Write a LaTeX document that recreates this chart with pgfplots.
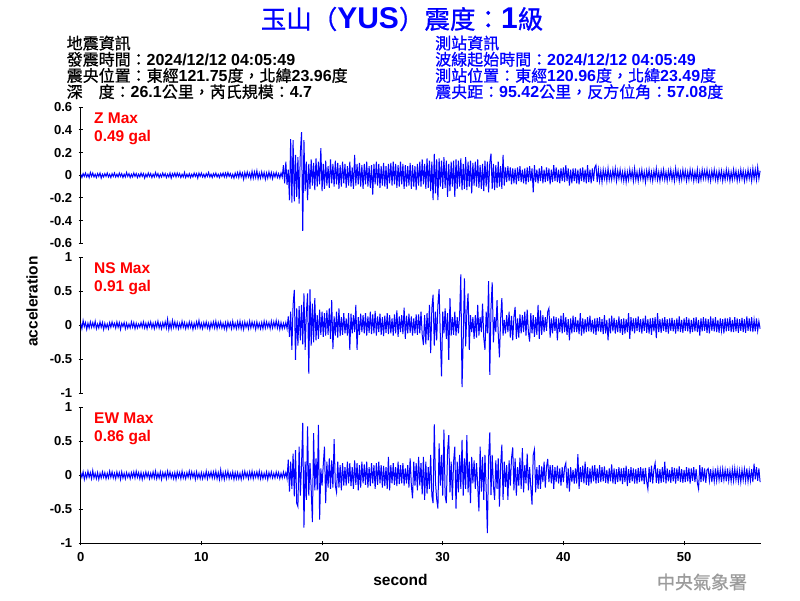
\documentclass[border=0pt]{standalone}
\usepackage{pgfplots}
\usepackage{pgfplotstable}
\pgfplotsset{compat=1.18}
\usepackage{fontspec}
\setmainfont{Liberation Sans}
\newfontfamily\cjk[FakeBold=0.8]{Noto Sans CJK TC}
\definecolor{wblue}{RGB}{0,0,255}
\definecolor{wred}{RGB}{255,0,0}
\definecolor{wgray}{RGB}{155,155,155}
\newcommand\C[1]{{\cjk #1}}
\newcommand\B[1]{{\bfseries #1}}

\pgfplotstableread[row sep=\\,header=false]{
0.01\\ -0.02\\ 0.015\\ -0.01\\ 0.02\\ -0.015\\ 0.01\\ -0.02\\ 0.025\\ -0.01\\
0.02\\ -0.015\\ 0.01\\ -0.02\\ 0.015\\ -0.01\\ 0.02\\ -0.025\\ 0.01\\ -0.015\\
0.015\\ -0.01\\ 0.02\\ -0.015\\ 0.01\\ -0.02\\ 0.015\\ -0.01\\ 0.02\\ -0.015\\
0.01\\ -0.015\\ 0.02\\ -0.01\\ 0.015\\ -0.02\\ 0.01\\ -0.015\\ 0.025\\ -0.01\\
0.015\\ -0.02\\ 0.01\\ -0.015\\ 0.02\\ -0.01\\ 0.015\\ -0.02\\ 0.01\\ -0.015\\
0.02\\ -0.01\\ 0.015\\ -0.025\\ 0.01\\ -0.015\\ 0.02\\ -0.01\\ 0.015\\ -0.02\\
0.01\\ -0.015\\ 0.025\\ -0.01\\ 0.015\\ -0.02\\ 0.01\\ -0.015\\ 0.02\\ -0.01\\
0.015\\ -0.02\\ 0.01\\ -0.015\\ 0.02\\ -0.025\\ 0.015\\ -0.01\\ 0.02\\ -0.015\\
0.02\\ -0.01\\ 0.015\\ -0.02\\ 0.01\\ -0.015\\ 0.025\\ -0.02\\ 0.01\\ -0.015\\
0.015\\ -0.02\\ 0.01\\ -0.015\\ 0.02\\ -0.01\\ 0.015\\ -0.025\\ 0.02\\ -0.01\\
0.02\\ -0.015\\ 0.01\\ -0.02\\ 0.015\\ -0.01\\ 0.025\\ -0.015\\ 0.01\\ -0.02\\
0.015\\ -0.01\\ 0.02\\ -0.015\\ 0.01\\ -0.02\\ 0.015\\ -0.01\\ 0.02\\ -0.015\\
0.02\\ -0.015\\ 0.025\\ -0.01\\ 0.015\\ -0.02\\ 0.01\\ -0.025\\ 0.02\\ -0.015\\
0.025\\ -0.02\\ 0.03\\ -0.015\\ 0.02\\ -0.035\\ 0.025\\ -0.02\\ 0.03\\ -0.015\\
0.02\\ -0.03\\ 0.035\\ -0.025\\ 0.03\\ -0.02\\ 0.04\\ -0.03\\ 0.02\\ -0.025\\
0.03\\ -0.02\\ 0.025\\ -0.035\\ 0.02\\ -0.025\\ 0.03\\ -0.02\\ 0.025\\ -0.03\\
0.02\\ -0.015\\ 0.025\\ -0.02\\ 0.015\\ -0.025\\ 0.02\\ -0.015\\ 0.09\\ -0.07\\
0.12\\ -0.085\\ 0.05\\ -0.22\\ 0.32\\ -0.24\\ 0.31\\ -0.23\\ 0.18\\ -0.19\\
0.16\\ -0.25\\ 0.2\\ 0.38\\ -0.49\\ 0.31\\ -0.14\\ 0.12\\ -0.22\\ 0.1\\
-0.12\\ 0.14\\ -0.09\\ 0.11\\ -0.13\\ 0.15\\ -0.1\\ 0.12\\ -0.08\\ 0.24\\
-0.14\\ 0.1\\ -0.12\\ 0.13\\ -0.09\\ 0.08\\ -0.11\\ 0.14\\ -0.07\\ 0.1\\
-0.1\\ 0.13\\ -0.08\\ 0.11\\ -0.12\\ 0.09\\ -0.1\\ 0.12\\ -0.07\\ 0.1\\
-0.11\\ 0.08\\ -0.09\\ 0.12\\ -0.1\\ 0.07\\ -0.12\\ 0.18\\ -0.09\\ 0.1\\
-0.08\\ 0.11\\ -0.1\\ 0.09\\ -0.12\\ 0.1\\ -0.08\\ 0.12\\ -0.1\\ 0.08\\
-0.11\\ 0.09\\ -0.17\\ 0.1\\ -0.08\\ 0.12\\ -0.09\\ 0.1\\ -0.11\\ 0.08\\
-0.09\\ 0.11\\ -0.1\\ 0.08\\ -0.12\\ 0.1\\ -0.07\\ 0.11\\ -0.09\\ 0.12\\
-0.08\\ 0.1\\ -0.11\\ 0.09\\ -0.1\\ 0.12\\ -0.08\\ 0.1\\ -0.12\\ 0.09\\
-0.1\\ 0.08\\ -0.09\\ 0.11\\ -0.12\\ 0.09\\ -0.1\\ 0.08\\ -0.13\\ 0.1\\
-0.09\\ 0.12\\ -0.1\\ 0.14\\ -0.08\\ 0.1\\ -0.12\\ 0.15\\ -0.11\\ 0.13\\
-0.14\\ 0.12\\ -0.22\\ 0.19\\ -0.16\\ 0.14\\ -0.22\\ 0.15\\ -0.1\\ 0.13\\
-0.12\\ 0.16\\ -0.11\\ 0.13\\ -0.19\\ 0.1\\ -0.14\\ 0.12\\ -0.1\\ 0.13\\
-0.19\\ 0.14\\ -0.12\\ 0.13\\ -0.1\\ 0.15\\ -0.13\\ 0.1\\ -0.12\\ 0.16\\
-0.13\\ 0.12\\ -0.1\\ 0.13\\ -0.16\\ 0.11\\ -0.09\\ 0.12\\ -0.1\\ 0.14\\
-0.11\\ 0.09\\ -0.12\\ 0.1\\ -0.14\\ 0.13\\ -0.1\\ 0.12\\ -0.15\\ 0.11\\
0.19\\ -0.12\\ 0.1\\ -0.13\\ 0.09\\ -0.11\\ 0.12\\ -0.1\\ 0.08\\ -0.12\\
0.18\\ -0.09\\ 0.07\\ -0.06\\ 0.08\\ -0.05\\ 0.07\\ -0.08\\ 0.06\\ -0.07\\
0.06\\ -0.08\\ 0.07\\ -0.05\\ 0.08\\ -0.06\\ 0.05\\ -0.07\\ 0.06\\ -0.08\\
0.07\\ -0.06\\ 0.08\\ -0.05\\ 0.06\\ -0.15\\ 0.09\\ -0.06\\ 0.05\\ -0.07\\
0.06\\ -0.05\\ 0.08\\ -0.07\\ 0.05\\ -0.06\\ 0.07\\ -0.05\\ 0.06\\ -0.08\\
0.05\\ -0.06\\ 0.09\\ -0.05\\ 0.07\\ -0.06\\ 0.05\\ -0.07\\ 0.06\\ -0.05\\
0.07\\ -0.06\\ 0.09\\ -0.05\\ 0.06\\ -0.09\\ 0.05\\ -0.07\\ 0.06\\ -0.05\\
0.06\\ -0.07\\ 0.05\\ -0.08\\ 0.06\\ -0.05\\ 0.07\\ -0.06\\ 0.05\\ -0.07\\
0.09\\ -0.06\\ 0.05\\ -0.07\\ 0.06\\ -0.05\\ 0.07\\ 0.09\\ -0.06\\ 0.05\\
-0.05\\ 0.04\\ -0.06\\ 0.05\\ -0.03\\ 0.04\\ -0.05\\ 0.06\\ -0.04\\ 0.03\\
-0.04\\ 0.05\\ -0.03\\ 0.06\\ -0.05\\ 0.04\\ -0.03\\ 0.05\\ -0.04\\ 0.03\\
-0.05\\ 0.04\\ -0.06\\ 0.03\\ -0.04\\ 0.05\\ -0.03\\ 0.04\\ -0.05\\ 0.06\\
-0.04\\ 0.03\\ -0.05\\ 0.04\\ -0.03\\ 0.05\\ -0.04\\ 0.03\\ -0.06\\ 0.04\\
-0.03\\ 0.05\\ -0.04\\ 0.03\\ -0.05\\ 0.04\\ -0.03\\ 0.06\\ -0.04\\ 0.03\\
-0.05\\ 0.04\\ -0.03\\ 0.05\\ -0.04\\ 0.03\\ -0.05\\ 0.04\\ -0.03\\ 0.05\\
-0.04\\ 0.03\\ -0.05\\ 0.06\\ -0.03\\ 0.04\\ -0.05\\ 0.03\\ -0.04\\ 0.05\\
-0.03\\ 0.04\\ -0.05\\ 0.03\\ -0.04\\ 0.05\\ -0.03\\ 0.04\\ -0.05\\ 0.03\\
-0.04\\ 0.05\\ -0.07\\ 0.03\\ -0.04\\ 0.05\\ -0.03\\ 0.04\\ -0.03\\ 0.05\\
-0.04\\ 0.03\\ -0.05\\ 0.04\\ -0.03\\ 0.05\\ -0.04\\ 0.03\\ -0.05\\ 0.04\\
-0.03\\ 0.04\\ -0.05\\ 0.03\\ -0.04\\ 0.05\\ -0.03\\ 0.04\\ -0.05\\ 0.03\\
-0.04\\ 0.05\\ -0.03\\ 0.04\\ -0.05\\ 0.03\\ -0.04\\ 0.05\\ -0.03\\ 0.04\\
-0.05\\ 0.03\\ -0.04\\ 0.05\\ -0.03\\ 0.04\\ -0.05\\ 0.06\\ -0.03\\ 0.05\\
-0.04\\ 0.07\\ -0.03\\ 0.04\\
}\zdat

\pgfplotstableread[row sep=\\,header=false]{
0.03\\ -0.05\\ 0.07\\ -0.02\\ 0.04\\ -0.06\\ 0.03\\ -0.04\\ 0.05\\ -0.03\\
0.04\\ -0.03\\ 0.06\\ -0.05\\ 0.02\\ -0.04\\ 0.05\\ -0.03\\ 0.04\\ -0.06\\
0.03\\ -0.04\\ 0.02\\ -0.05\\ 0.04\\ -0.03\\ 0.05\\ -0.02\\ 0.03\\ -0.04\\
0.05\\ -0.03\\ 0.04\\ -0.06\\ 0.03\\ -0.02\\ 0.04\\ -0.05\\ 0.03\\ -0.04\\
0.02\\ -0.04\\ 0.05\\ -0.03\\ 0.04\\ -0.05\\ 0.03\\ -0.04\\ 0.02\\ -0.03\\
0.04\\ -0.03\\ 0.05\\ -0.04\\ 0.03\\ -0.05\\ 0.04\\ -0.02\\ 0.05\\ -0.04\\
0.03\\ -0.05\\ 0.04\\ -0.03\\ 0.06\\ -0.04\\ 0.03\\ -0.05\\ 0.04\\ -0.03\\
0.05\\ -0.04\\ 0.09\\ -0.06\\ 0.04\\ -0.05\\ 0.07\\ -0.03\\ 0.05\\ -0.04\\
0.04\\ -0.05\\ 0.03\\ -0.04\\ 0.06\\ -0.03\\ 0.04\\ -0.05\\ 0.03\\ -0.04\\
0.05\\ -0.03\\ 0.04\\ -0.06\\ 0.03\\ -0.04\\ 0.05\\ -0.03\\ 0.07\\ -0.04\\
0.03\\ -0.05\\ 0.04\\ -0.03\\ 0.05\\ -0.04\\ 0.03\\ -0.06\\ 0.04\\ -0.03\\
0.05\\ -0.04\\ 0.06\\ -0.05\\ 0.04\\ -0.03\\ 0.05\\ -0.04\\ 0.03\\ -0.05\\
0.04\\ -0.06\\ 0.05\\ -0.03\\ 0.04\\ -0.05\\ 0.06\\ -0.04\\ 0.03\\ -0.05\\
0.05\\ -0.04\\ 0.06\\ -0.05\\ 0.04\\ -0.06\\ 0.05\\ -0.03\\ 0.04\\ -0.05\\
0.06\\ -0.04\\ 0.05\\ -0.03\\ 0.04\\ -0.06\\ 0.05\\ -0.04\\ 0.03\\ -0.05\\
0.04\\ -0.05\\ 0.06\\ -0.04\\ 0.05\\ -0.03\\ 0.04\\ -0.05\\ 0.06\\ -0.04\\
0.05\\ -0.03\\ 0.07\\ -0.04\\ 0.05\\ -0.06\\ 0.04\\ -0.05\\ 0.03\\ -0.04\\
0.04\\ -0.05\\ 0.13\\ -0.17\\ 0.2\\ -0.36\\ 0.3\\ 0.52\\ -0.51\\ 0.25\\
-0.3\\ 0.28\\ -0.22\\ 0.3\\ -0.28\\ 0.47\\ -0.36\\ 0.18\\ 0.47\\ -0.71\\
0.53\\ -0.3\\ 0.32\\ -0.25\\ 0.4\\ -0.22\\ 0.15\\ -0.2\\ 0.23\\ -0.14\\
0.2\\ -0.17\\ 0.18\\ -0.15\\ 0.22\\ -0.14\\ 0.25\\ -0.2\\ 0.37\\ -0.35\\
0.13\\ -0.15\\ 0.2\\ -0.18\\ 0.25\\ -0.16\\ 0.12\\ -0.14\\ 0.18\\ -0.12\\
0.1\\ -0.15\\ 0.18\\ -0.36\\ 0.17\\ -0.12\\ 0.15\\ -0.1\\ 0.3\\ -0.36\\
0.12\\ -0.14\\ 0.17\\ -0.1\\ 0.15\\ -0.12\\ 0.18\\ -0.15\\ 0.13\\ -0.11\\
0.2\\ -0.13\\ 0.16\\ -0.12\\ 0.21\\ -0.15\\ 0.13\\ -0.1\\ 0.17\\ -0.14\\
0.12\\ -0.16\\ 0.14\\ -0.11\\ 0.18\\ -0.13\\ 0.15\\ -0.12\\ 0.1\\ -0.15\\
0.16\\ -0.12\\ 0.22\\ -0.17\\ 0.13\\ -0.1\\ 0.15\\ -0.13\\ 0.26\\ -0.2\\
0.14\\ -0.12\\ 0.17\\ -0.11\\ 0.13\\ -0.15\\ 0.1\\ -0.12\\ 0.16\\ -0.14\\
0.16\\ -0.12\\ 0.2\\ -0.14\\ -0.29\\ 0.15\\ -0.28\\ 0.18\\ -0.22\\ 0.3\\
-0.41\\ 0.25\\ 0.45\\ -0.3\\ 0.2\\ -0.22\\ 0.3\\ 0.53\\ -0.15\\ -0.75\\
0.2\\ -0.12\\ 0.25\\ -0.2\\ 0.18\\ -0.51\\ 0.4\\ -0.15\\ 0.12\\ -0.14\\
0.2\\ -0.15\\ 0.12\\ -0.12\\ 0.15\\ 0.75\\ -0.91\\ -0.2\\ 0.69\\ -0.31\\
0.2\\ 0.47\\ -0.36\\ 0.15\\ -0.1\\ 0.12\\ -0.2\\ 0.15\\ -0.18\\ 0.3\\
-0.15\\ 0.12\\ -0.1\\ 0.32\\ -0.18\\ -0.36\\ 0.2\\ -0.12\\ 0.65\\ -0.73\\
0.25\\ 0.63\\ -0.25\\ 0.12\\ -0.1\\ 0.37\\ -0.12\\ -0.47\\ 0.1\\ 0.4\\
-0.15\\ 0.08\\ -0.12\\ 0.15\\ -0.1\\ 0.2\\ -0.18\\ 0.14\\ -0.22\\ 0.12\\
0.27\\ -0.2\\ 0.1\\ -0.18\\ 0.16\\ -0.12\\ 0.15\\ -0.1\\ 0.2\\ -0.15\\
0.23\\ -0.1\\ -0.24\\ 0.18\\ -0.12\\ 0.15\\ -0.17\\ 0.12\\ -0.14\\ 0.3\\
-0.2\\ 0.22\\ -0.14\\ 0.15\\ -0.1\\ 0.12\\ -0.08\\ 0.2\\ 0.25\\ -0.18\\
0.1\\ -0.12\\ 0.13\\ -0.08\\ 0.12\\ -0.22\\ 0.1\\ -0.1\\ 0.14\\ -0.12\\
0.18\\ -0.1\\ 0.12\\ -0.14\\ 0.09\\ -0.22\\ 0.1\\ -0.12\\ 0.14\\ -0.1\\
0.12\\ -0.1\\ 0.08\\ -0.13\\ 0.18\\ -0.15\\ 0.1\\ -0.12\\ 0.09\\ -0.1\\
0.12\\ -0.09\\ 0.14\\ -0.1\\ 0.08\\ -0.12\\ 0.1\\ -0.14\\ 0.11\\ -0.09\\
0.12\\ -0.1\\ 0.09\\ -0.13\\ 0.15\\ -0.12\\ 0.08\\ -0.22\\ 0.1\\ -0.12\\
0.14\\ -0.09\\ 0.11\\ -0.12\\ 0.08\\ -0.1\\ 0.13\\ -0.11\\ 0.09\\ -0.14\\
0.1\\ -0.12\\ 0.09\\ -0.1\\ 0.18\\ -0.2\\ 0.12\\ -0.09\\ 0.1\\ -0.12\\
0.11\\ -0.08\\ 0.13\\ -0.1\\ 0.09\\ -0.12\\ 0.1\\ -0.08\\ 0.14\\ -0.11\\
0.09\\ -0.12\\ 0.1\\ -0.14\\ 0.11\\ -0.09\\ 0.12\\ -0.19\\ 0.18\\ -0.1\\
0.09\\ -0.11\\ 0.1\\ -0.08\\ 0.12\\ -0.1\\ 0.09\\ -0.12\\ 0.1\\ -0.08\\
0.11\\ -0.09\\ 0.08\\ -0.12\\ 0.1\\ -0.09\\ 0.13\\ -0.1\\ 0.08\\ -0.11\\
0.1\\ -0.08\\ 0.12\\ -0.09\\ 0.1\\ -0.12\\ 0.08\\ -0.1\\ 0.11\\ -0.09\\
0.12\\ -0.1\\ 0.08\\ -0.15\\ 0.1\\ -0.09\\ 0.12\\ -0.08\\ 0.1\\ -0.11\\
0.09\\ -0.12\\ 0.13\\ -0.08\\ 0.1\\ -0.09\\ 0.12\\ -0.1\\ 0.08\\ -0.11\\
0.1\\ -0.08\\ 0.09\\ -0.12\\ 0.11\\ -0.09\\ 0.1\\ -0.08\\ 0.12\\ -0.1\\
0.08\\ -0.1\\ 0.12\\ -0.09\\ 0.1\\ -0.11\\ 0.09\\ -0.08\\ 0.11\\ -0.1\\
0.09\\ -0.11\\ 0.13\\ -0.08\\ 0.1\\ -0.09\\ 0.12\\ -0.1\\ 0.08\\ -0.09\\
0.1\\ -0.08\\ 0.06\\ -0.05\\
}\nsdat

\pgfplotstableread[row sep=\\,header=false]{
0.04\\ -0.03\\ 0.05\\ -0.06\\ 0.03\\ -0.04\\ 0.06\\ -0.03\\ 0.04\\ -0.05\\
0.07\\ -0.04\\ 0.03\\ -0.05\\ 0.04\\ -0.06\\ 0.03\\ -0.04\\ 0.05\\ -0.03\\
0.04\\ -0.05\\ 0.03\\ -0.04\\ 0.06\\ -0.03\\ 0.05\\ -0.04\\ 0.03\\ -0.05\\
0.05\\ -0.03\\ 0.04\\ -0.06\\ 0.05\\ -0.04\\ 0.03\\ -0.05\\ 0.04\\ -0.03\\
0.03\\ -0.05\\ 0.04\\ -0.03\\ 0.05\\ -0.04\\ 0.06\\ -0.03\\ 0.04\\ -0.05\\
0.04\\ -0.06\\ 0.03\\ -0.04\\ 0.05\\ -0.03\\ 0.04\\ -0.05\\ 0.03\\ -0.04\\
0.05\\ -0.04\\ 0.06\\ -0.05\\ 0.03\\ -0.04\\ 0.05\\ -0.06\\ 0.04\\ -0.03\\
0.04\\ -0.05\\ 0.06\\ -0.03\\ 0.05\\ -0.04\\ 0.03\\ -0.05\\ 0.04\\ -0.06\\
0.05\\ -0.03\\ 0.04\\ -0.05\\ 0.06\\ -0.04\\ 0.03\\ -0.05\\ 0.04\\ -0.03\\
0.06\\ -0.04\\ 0.05\\ -0.03\\ 0.04\\ -0.06\\ 0.05\\ -0.04\\ 0.03\\ -0.05\\
0.04\\ -0.05\\ 0.03\\ -0.04\\ 0.06\\ -0.05\\ 0.04\\ -0.03\\ 0.05\\ -0.04\\
0.05\\ -0.04\\ 0.06\\ -0.05\\ 0.04\\ -0.06\\ 0.08\\ -0.05\\ 0.04\\ -0.06\\
0.05\\ -0.04\\ 0.06\\ -0.05\\ 0.03\\ -0.04\\ 0.05\\ -0.06\\ 0.04\\ -0.05\\
0.04\\ -0.05\\ 0.03\\ -0.06\\ 0.05\\ -0.04\\ 0.06\\ -0.03\\ 0.04\\ -0.05\\
0.05\\ -0.04\\ 0.06\\ -0.05\\ 0.04\\ -0.03\\ 0.05\\ -0.04\\ 0.06\\ -0.05\\
0.04\\ -0.05\\ 0.03\\ -0.04\\ 0.05\\ -0.06\\ 0.04\\ -0.03\\ 0.05\\ -0.04\\
0.03\\ -0.04\\ 0.05\\ -0.03\\ 0.04\\ -0.05\\ 0.03\\ -0.04\\ 0.05\\ -0.03\\
0.04\\ -0.05\\ 0.23\\ -0.24\\ 0.2\\ -0.2\\ 0.32\\ -0.31\\ 0.37\\ -0.41\\
-0.46\\ 0.42\\ -0.3\\ 0.15\\ 0.77\\ -0.77\\ 0.2\\ -0.36\\ 0.72\\ -0.3\\
0.18\\ -0.2\\ -0.69\\ 0.62\\ -0.22\\ 0.25\\ -0.22\\ 0.74\\ -0.65\\ 0.1\\
-0.15\\ 0.15\\ 0.42\\ -0.41\\ 0.2\\ -0.18\\ 0.25\\ -0.2\\ 0.22\\ -0.18\\
0.53\\ -0.15\\ -0.25\\ 0.2\\ -0.18\\ 0.15\\ -0.22\\ 0.18\\ -0.15\\ 0.12\\
-0.15\\ 0.2\\ -0.12\\ 0.18\\ -0.16\\ 0.12\\ -0.2\\ 0.22\\ -0.14\\ 0.18\\
-0.22\\ 0.15\\ -0.18\\ 0.2\\ -0.12\\ 0.16\\ -0.14\\ 0.2\\ -0.18\\ 0.12\\
-0.16\\ 0.18\\ -0.12\\ 0.15\\ -0.2\\ 0.18\\ -0.14\\ 0.2\\ -0.12\\ 0.15\\
-0.18\\ 0.14\\ -0.16\\ 0.12\\ -0.2\\ 0.27\\ -0.22\\ 0.15\\ -0.12\\ 0.18\\
-0.14\\ 0.12\\ -0.16\\ 0.2\\ -0.13\\ 0.15\\ -0.12\\ 0.18\\ -0.15\\ 0.1\\
-0.12\\ 0.15\\ -0.18\\ 0.25\\ -0.15\\ -0.34\\ 0.2\\ -0.15\\ 0.18\\ -0.22\\
0.27\\ -0.15\\ 0.18\\ -0.28\\ 0.27\\ -0.36\\ 0.2\\ -0.27\\ 0.12\\ -0.2\\
0.3\\ -0.3\\ -0.41\\ 0.75\\ -0.1\\ -0.35\\ -0.49\\ 0.47\\ -0.15\\ 0.3\\
-0.3\\ 0.67\\ -0.3\\ -0.41\\ 0.35\\ 0.59\\ -0.25\\ 0.2\\ -0.36\\ 0.2\\
0.42\\ -0.49\\ 0.2\\ -0.25\\ 0.3\\ -0.2\\ 0.52\\ -0.3\\ 0.25\\ -0.2\\
0.59\\ -0.25\\ 0.2\\ -0.41\\ 0.27\\ -0.12\\ 0.22\\ -0.2\\ 0.18\\ -0.15\\
-0.53\\ 0.42\\ -0.24\\ 0.27\\ -0.36\\ 0.3\\ -0.2\\ -0.85\\ 0.25\\ 0.63\\
-0.29\\ 0.3\\ -0.15\\ -0.36\\ 0.22\\ -0.2\\ 0.25\\ -0.46\\ 0.15\\ 0.45\\
-0.36\\ 0.2\\ -0.17\\ 0.15\\ -0.36\\ 0.22\\ -0.15\\ 0.25\\ 0.41\\ -0.22\\
0.25\\ -0.3\\ 0.12\\ -0.15\\ 0.26\\ -0.2\\ 0.4\\ -0.25\\ 0.15\\ -0.12\\
0.32\\ -0.22\\ 0.12\\ -0.18\\ -0.43\\ 0.3\\ 0.38\\ -0.25\\ 0.12\\ -0.2\\
0.15\\ -0.2\\ 0.13\\ -0.1\\ 0.2\\ -0.18\\ 0.12\\ 0.24\\ -0.1\\ 0.15\\
-0.12\\ 0.15\\ -0.2\\ 0.12\\ -0.1\\ 0.14\\ -0.12\\ 0.1\\ -0.15\\ 0.12\\
-0.1\\ 0.12\\ 0.18\\ -0.19\\ 0.1\\ -0.24\\ 0.12\\ -0.1\\ 0.08\\ -0.12\\
0.1\\ -0.12\\ 0.31\\ -0.2\\ 0.12\\ -0.1\\ 0.14\\ -0.12\\ 0.2\\ -0.14\\
0.12\\ -0.15\\ 0.1\\ -0.12\\ 0.14\\ -0.09\\ 0.15\\ -0.12\\ 0.1\\ -0.11\\
0.15\\ -0.1\\ 0.12\\ -0.09\\ 0.13\\ -0.11\\ 0.08\\ -0.12\\ 0.1\\ -0.09\\
0.16\\ -0.12\\ 0.1\\ -0.13\\ 0.09\\ -0.1\\ 0.12\\ -0.09\\ 0.1\\ -0.13\\
0.11\\ -0.1\\ 0.14\\ -0.16\\ 0.09\\ -0.11\\ 0.12\\ -0.09\\ 0.1\\ -0.12\\
0.09\\ -0.12\\ 0.11\\ -0.1\\ 0.12\\ -0.09\\ 0.1\\ -0.13\\ 0.11\\ -0.09\\
-0.2\\ 0.12\\ -0.1\\ 0.14\\ -0.12\\ 0.09\\ 0.18\\ -0.11\\ 0.1\\ -0.12\\
0.09\\ -0.11\\ 0.12\\ -0.1\\ 0.2\\ -0.12\\ 0.1\\ -0.09\\ 0.08\\ -0.11\\
0.12\\ -0.09\\ 0.11\\ -0.12\\ 0.1\\ -0.08\\ 0.13\\ -0.1\\ 0.09\\ -0.11\\
0.08\\ -0.1\\ 0.12\\ -0.09\\ 0.11\\ -0.12\\ 0.1\\ -0.08\\ 0.12\\ -0.1\\
0.09\\ -0.11\\ -0.2\\ 0.15\\ -0.1\\ 0.12\\ -0.09\\ 0.1\\ -0.11\\ 0.08\\
0.1\\ -0.08\\ 0.09\\ -0.1\\ 0.07\\ -0.09\\ 0.1\\ -0.08\\ 0.09\\ -0.07\\
0.08\\ -0.1\\ 0.09\\ -0.07\\ 0.08\\ -0.09\\ 0.1\\ -0.08\\ 0.07\\ -0.09\\
0.09\\ -0.08\\ 0.1\\ -0.07\\ 0.08\\ -0.09\\ 0.07\\ -0.1\\ 0.08\\ -0.07\\
0.09\\ -0.08\\ 0.1\\ -0.09\\ 0.07\\ -0.08\\ 0.09\\ -0.1\\ 0.17\\ -0.06\\
0.12\\ -0.08\\ 0.1\\ -0.1\\
}\ewdat

\pgfplotsset{
  seis/.style={
    scale only axis, width=680pt, height=136pt, anchor=south west,
    xmin=0, xmax=56.35,
    tick align=outside, major tick length=4pt,
    tick style={black, line width=1pt},
    ticklabel style={font=\fontsize{13}{13}\selectfont\bfseries},
    yticklabel style={xshift=-3pt},
    xticklabel style={yshift=-4pt},
    /pgf/number format/assume math mode=true,
    every axis plot/.append style={wblue, line width=1pt, no markers},
  },
}

\begin{document}
\begin{tikzpicture}
\useasboundingbox (0pt,0pt) rectangle (800pt,600pt);

\begin{axis}[seis, at={(80.7pt,356.7pt)}, axis x line=none, axis y line=left,
  axis line style={-, line width=1pt, black},
  ymin=-0.6, ymax=0.6, ytick={-0.6,-0.4,-0.2,0,0.2,0.4,0.6}]
\addplot table[x expr=\coordindex*0.1, y index=0] {\zdat};
\end{axis}

\begin{axis}[seis, at={(80.7pt,206.7pt)}, axis x line=none, axis y line=left,
  axis line style={-, line width=1pt, black},
  ymin=-1, ymax=1, ytick={-1,-0.5,0,0.5,1}]
\addplot table[x expr=\coordindex*0.1, y index=0] {\nsdat};
\end{axis}

\begin{axis}[seis, at={(80.7pt,56.7pt)}, axis x line=bottom, axis y line=left,
  axis line style={-, line width=1pt, black},
  ymin=-1, ymax=1, ytick={-1,-0.5,0,0.5,1},
  xtick={0,10,20,30,40,50}]
\addplot table[x expr=\coordindex*0.1, y index=0] {\ewdat};
\end{axis}

% panel labels
\begin{scope}[every node/.style={anchor=west, inner sep=0pt, text=wred, font=\fontsize{15.5}{15.5}\selectfont\bfseries}]
\node at (94pt,481.7pt) {Z Max};
\node at (94pt,462.7pt) {0.49 gal};
\node at (94pt,331.7pt) {NS Max};
\node at (94pt,312.7pt) {0.91 gal};
\node at (94pt,181.7pt) {EW Max};
\node at (94pt,162.7pt) {0.86 gal};
\end{scope}

% title
\node[text=wblue, inner sep=0pt] at (402pt,581pt) {\fontsize{25.5}{25.5}\selectfont\C{玉山（}{\fontsize{30}{30}\selectfont\B{YUS}}\C{）震度：}{\fontsize{30}{30}\selectfont\B{1}}\C{級}};

% header
\begin{scope}[every node/.style={anchor=west, inner sep=0pt, text height=11pt, text depth=3pt, font=\fontsize{16}{16}\selectfont}]
\node at (66.5pt,554.8pt) {\C{地震資訊}};
\node at (66.5pt,538.6pt) {\C{發震時間：}\B{2024/12/12 04:05:49}};
\node at (66.5pt,522.4pt) {\C{震央位置：東經}\B{121.75}\C{度，北緯}\B{23.96}\C{度}};
\node at (66.5pt,506.2pt) {\C{深　度：}\B{26.1}\C{公里，芮氏規模：}\B{4.7}};
\node[text=wblue] at (435pt,554.8pt) {\C{測站資訊}};
\node[text=wblue] at (435pt,538.6pt) {\C{波線起始時間：}\B{2024/12/12 04:05:49}};
\node[text=wblue] at (435pt,522.4pt) {\C{測站位置：東經}\B{120.96}\C{度，北緯}\B{23.49}\C{度}};
\node[text=wblue] at (435pt,506.2pt) {\C{震央距：}\B{95.42}\C{公里，反方位角：}\B{57.08}\C{度}};
\end{scope}

% axis titles
\node[rotate=90, inner sep=0pt, font=\fontsize{15.5}{15.5}\selectfont\bfseries] at (32pt,298.5pt) {acceleration};
\node[inner sep=0pt, font=\fontsize{15.5}{15.5}\selectfont\bfseries] at (400.5pt,20pt) {second};

% footer
\node[inner sep=0pt, text=wgray, font=\fontsize{18}{18}\selectfont] at (702pt,18pt) {\C{中央氣象署}};
\end{tikzpicture}
\end{document}
